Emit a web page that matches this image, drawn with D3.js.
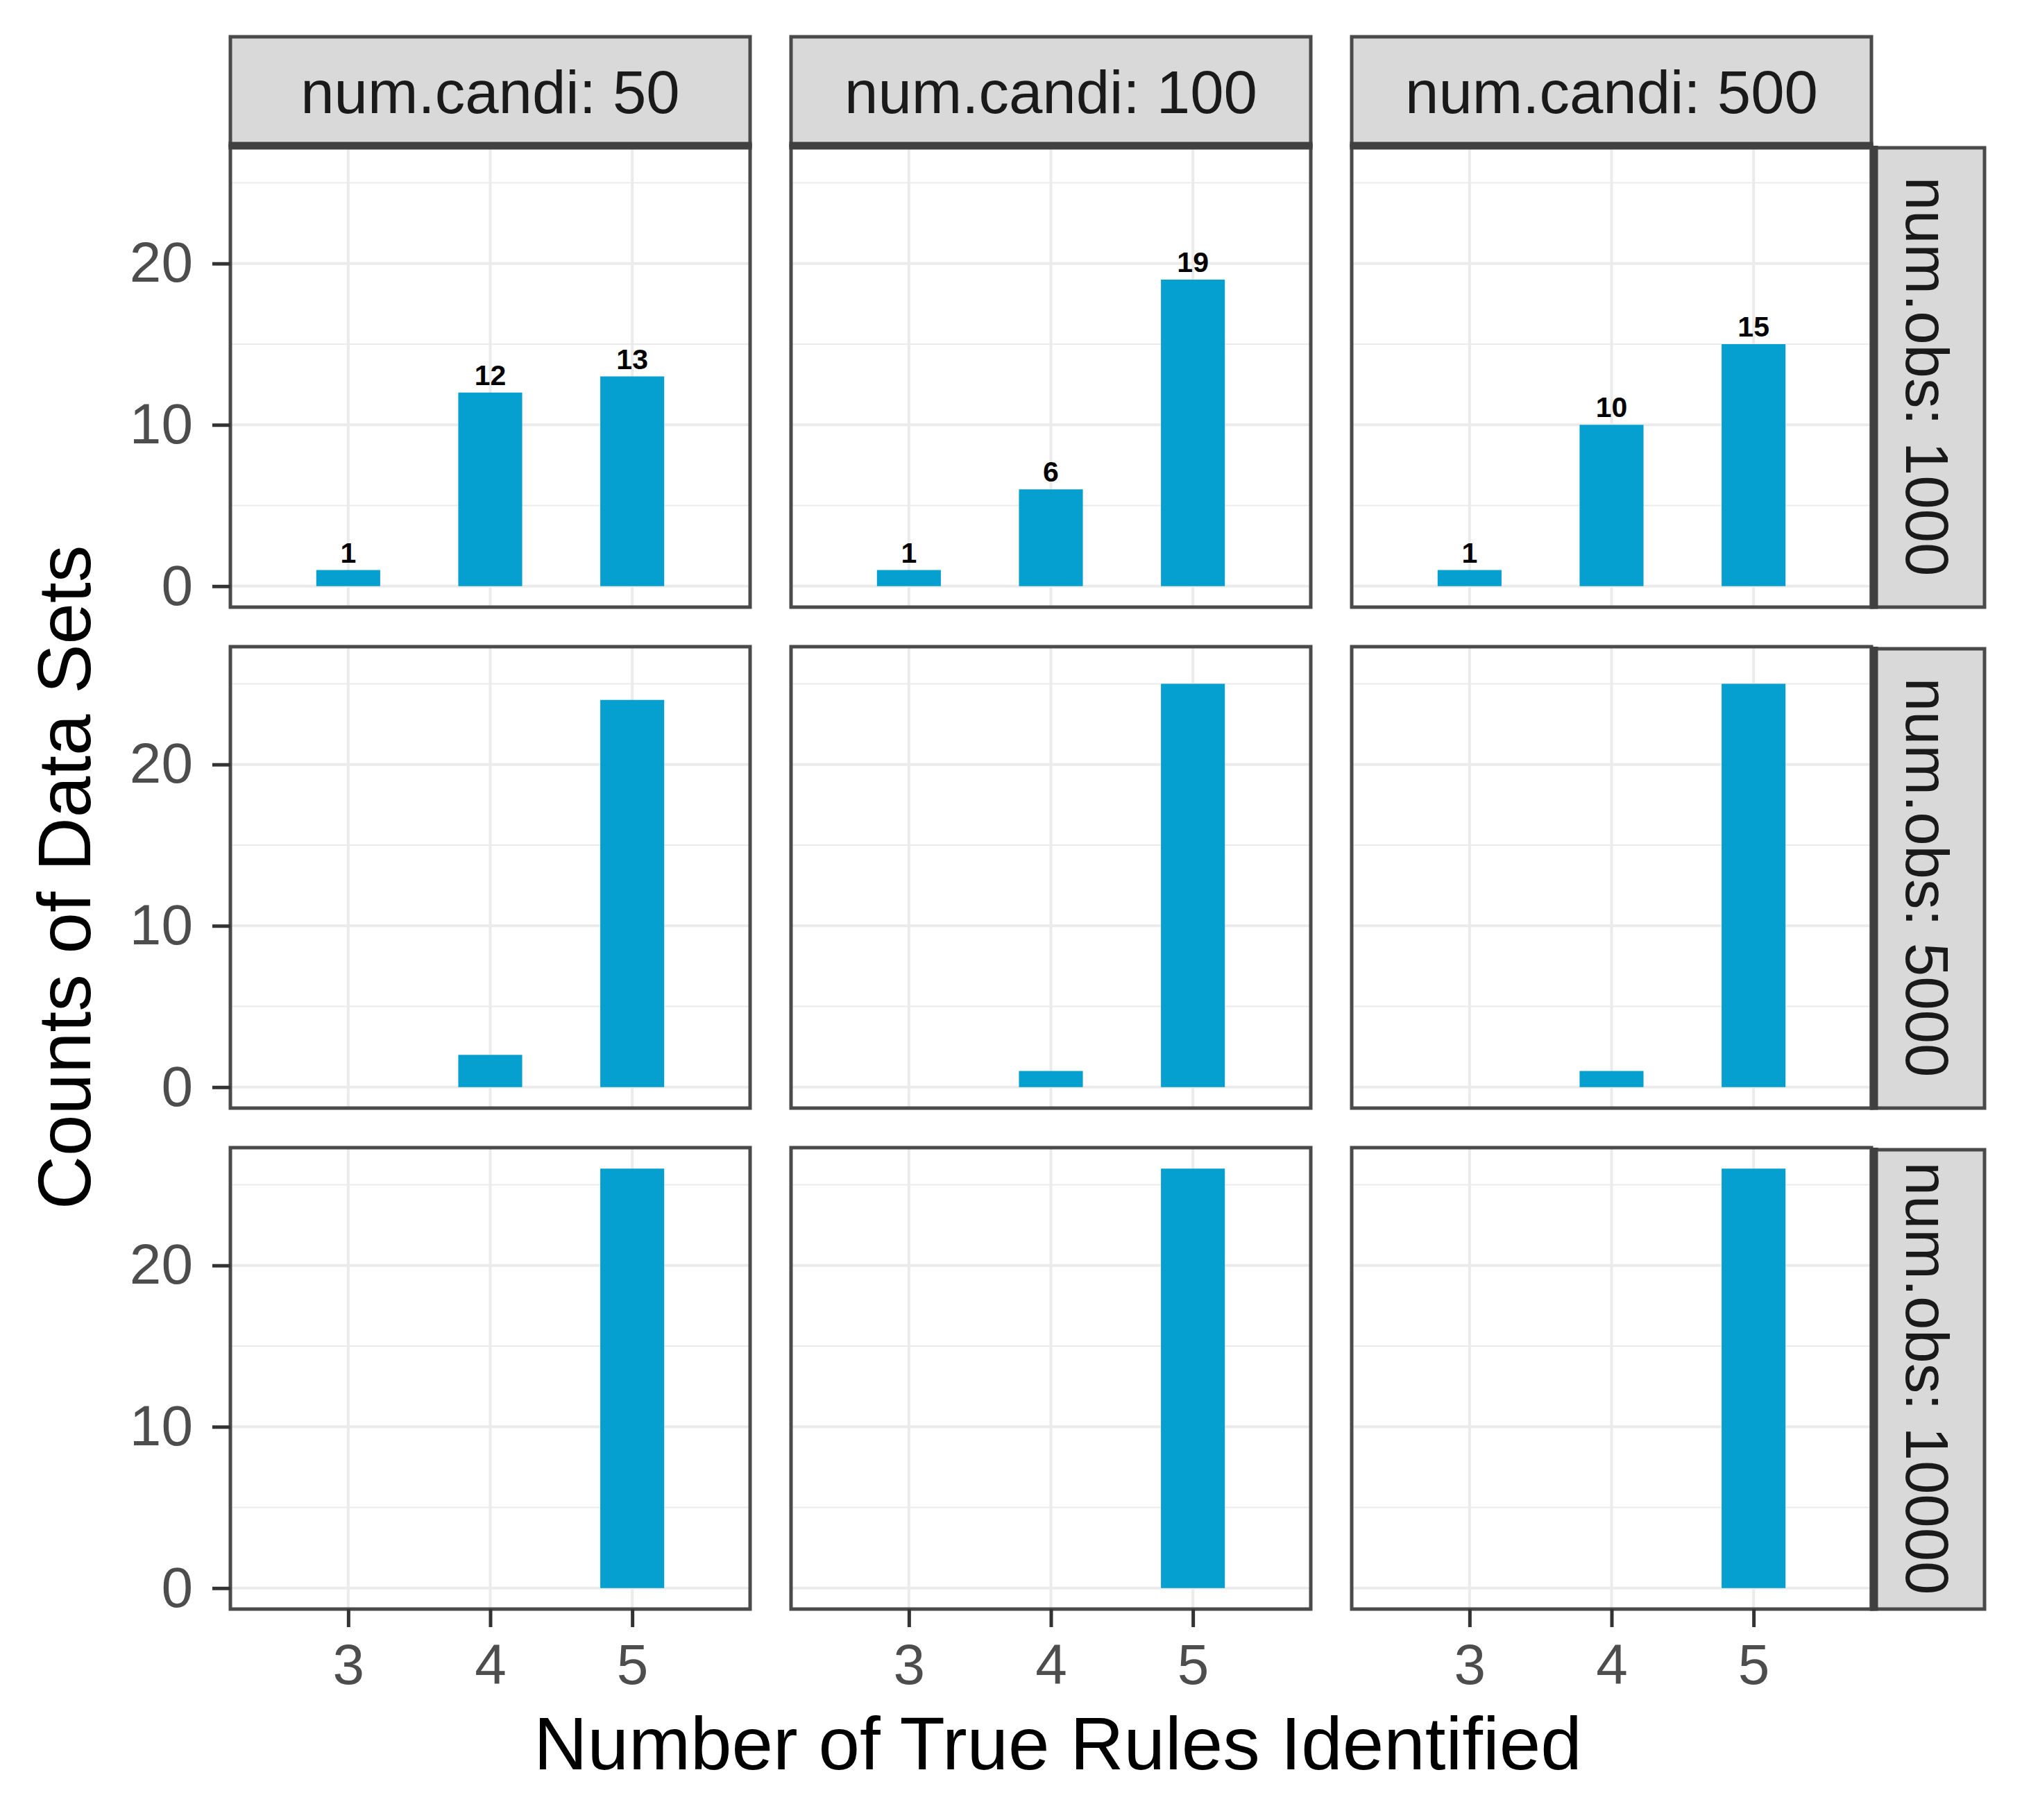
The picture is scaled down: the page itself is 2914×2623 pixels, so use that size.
<!DOCTYPE html>
<html>
<head>
<meta charset="utf-8">
<script src="https://cdn.jsdelivr.net/npm/d3@7"></script>
<style>
  body { margin: 0; background: #fff; }
  svg { display: block; font-family: "Liberation Sans", Arial, Helvetica, sans-serif; }
</style>
</head>
<body>
<div id="chart"></div>
<script>
// facet levels
const candidateCounts = [50, 100, 500];
const obsCounts = [1000, 5000, 10000];
const rulesFound = [3, 4, 5];

// counts of data sets, one array per num.obs row, one inner array per num.candi column
const counts1000 = [[1, 12, 13], [1, 6, 19], [1, 10, 15]];
const counts5000 = [[0, 2, 24], [0, 1, 25], [0, 1, 25]];
const counts10000 = [[0, 0, 26], [0, 0, 26], [0, 0, 26]];
const countsByObs = [counts1000, counts5000, counts10000];

// only these rows get value labels above bars
const labelledObs = [1000];

const yTicks = [0, 10, 20];
const yMinorTicks = [5, 15, 25];

const width = 2914;
const height = 2623;

const panel = { left: 332, top: 210, width: 749, height: 665, gapX: 59, gapY: 57 };
const stripTop = 53;
const stripRight = 2860;

const barColor = "#05A0D0";
const borderColor = "#4A4A4A";
const gridColor = "#EBEBEB";

const x = d3.scaleLinear().domain([2.17, 5.83]).range([0, panel.width]);
const y = d3.scaleLinear().domain([-1.3, 27.3]).range([panel.height, 0]);
const barWidth = x(3.45) - x(3);

const svg = d3.select("#chart")
  .append("svg")
  .attr("width", width)
  .attr("height", height)
  .attr("viewBox", `0 0 ${width} ${height}`);

svg.append("rect").attr("width", width).attr("height", height).attr("fill", "#fff");

const panelX = (col) => panel.left + col * (panel.width + panel.gapX);
const panelY = (row) => panel.top + row * (panel.height + panel.gapY);

obsCounts.forEach((obs, row) => {
  candidateCounts.forEach((candi, col) => {
    const g = svg.append("g")
      .attr("class", "panel")
      .attr("transform", `translate(${panelX(col)},${panelY(row)})`);

    // grid
    g.selectAll(".minor-y")
      .data(yMinorTicks)
      .join("line")
      .attr("x1", 0).attr("x2", panel.width)
      .attr("y1", (d) => y(d)).attr("y2", (d) => y(d))
      .attr("stroke", gridColor).attr("stroke-width", 2);

    g.selectAll(".major-y")
      .data(yTicks)
      .join("line")
      .attr("x1", 0).attr("x2", panel.width)
      .attr("y1", (d) => y(d)).attr("y2", (d) => y(d))
      .attr("stroke", gridColor).attr("stroke-width", 4);

    g.selectAll(".major-x")
      .data(rulesFound)
      .join("line")
      .attr("x1", (d) => x(d)).attr("x2", (d) => x(d))
      .attr("y1", 0).attr("y2", panel.height)
      .attr("stroke", gridColor).attr("stroke-width", 4);

    const values = countsByObs[row][col].map((count, i) => ({ rules: rulesFound[i], count }));

    g.selectAll("rect.bar")
      .data(values.filter((d) => d.count > 0))
      .join("rect")
      .attr("class", "bar")
      .attr("x", (d) => x(d.rules) - barWidth / 2)
      .attr("width", barWidth)
      .attr("y", (d) => y(d.count))
      .attr("height", (d) => y(0) - y(d.count))
      .attr("fill", barColor);

    if (labelledObs.includes(obs)) {
      g.selectAll("text.value")
        .data(values.filter((d) => d.count > 0))
        .join("text")
        .attr("class", "value")
        .attr("x", (d) => x(d.rules))
        .attr("y", (d) => y(d.count) - 11)
        .attr("text-anchor", "middle")
        .attr("font-size", 41)
        .attr("font-weight", "bold")
        .attr("fill", "#000")
        .text((d) => d.count);
    }

    g.append("rect")
      .attr("width", panel.width)
      .attr("height", panel.height)
      .attr("fill", "none")
      .attr("stroke", borderColor)
      .attr("stroke-width", 5);

    // axes on the outer panels only
    if (col === 0) {
      const yAxis = g.append("g")
        .call(d3.axisLeft(y).tickValues(yTicks).tickFormat(d3.format("d")).tickSize(26).tickPadding(28));
      yAxis.select(".domain").remove();
      yAxis.selectAll("line").attr("stroke", "#333").attr("stroke-width", 5);
      yAxis.selectAll("text")
        .attr("font-size", 82)
        .attr("font-family", "Liberation Sans, Arial, sans-serif")
        .attr("fill", "#4D4D4D");
    }
    if (row === obsCounts.length - 1) {
      const xAxis = g.append("g")
        .attr("transform", `translate(0,${panel.height})`)
        .call(d3.axisBottom(x).tickValues(rulesFound).tickFormat(d3.format("d")).tickSize(26).tickPadding(24));
      xAxis.select(".domain").remove();
      xAxis.selectAll("line").attr("stroke", "#333").attr("stroke-width", 5);
      xAxis.selectAll("text")
        .attr("font-size", 82)
        .attr("font-family", "Liberation Sans, Arial, sans-serif")
        .attr("fill", "#4D4D4D");
    }
  });
});

// column strips
candidateCounts.forEach((candi, col) => {
  const sx = panelX(col);
  svg.append("rect")
    .attr("x", sx).attr("y", stripTop)
    .attr("width", panel.width).attr("height", panel.top - stripTop)
    .attr("fill", "#D9D9D9")
    .attr("stroke", borderColor).attr("stroke-width", 5);
  svg.append("line")
    .attr("x1", sx - 2.5).attr("x2", sx + panel.width + 2.5)
    .attr("y1", panel.top).attr("y2", panel.top)
    .attr("stroke", "#404040").attr("stroke-width", 11);
  svg.append("text")
    .attr("x", sx + panel.width / 2)
    .attr("y", (stripTop + panel.top) / 2)
    .attr("dy", "0.36em")
    .attr("text-anchor", "middle")
    .attr("font-size", 87)
    .attr("fill", "#1A1A1A")
    .text(`num.candi: ${candi}`);
});

// row strips
const stripLeft = panelX(candidateCounts.length - 1) + panel.width;
obsCounts.forEach((obs, row) => {
  const sy = panelY(row);
  svg.append("rect")
    .attr("x", stripLeft).attr("y", sy + 3)
    .attr("width", stripRight - stripLeft).attr("height", panel.height - 3)
    .attr("fill", "#D9D9D9")
    .attr("stroke", borderColor).attr("stroke-width", 5);
  svg.append("line")
    .attr("x1", stripLeft + 4).attr("x2", stripLeft + 4)
    .attr("y1", sy).attr("y2", sy + panel.height + 2.5)
    .attr("stroke", "#404040").attr("stroke-width", 11);
  const cx = (stripLeft + stripRight) / 2;
  const cy = sy + panel.height / 2;
  svg.append("text")
    .attr("transform", `translate(${cx},${cy}) rotate(90)`)
    .attr("dy", "0.36em")
    .attr("text-anchor", "middle")
    .attr("font-size", 87)
    .attr("fill", "#1A1A1A")
    .text(`num.obs: ${obs}`);
});

// axis titles
const plotCenterX = (panel.left + stripLeft) / 2 + 10;
const plotCenterY = (panel.top + panelY(obsCounts.length - 1) + panel.height) / 2;

svg.append("text")
  .attr("x", plotCenterX)
  .attr("y", 2550)
  .attr("text-anchor", "middle")
  .attr("font-size", 107)
  .attr("fill", "#000")
  .text("Number of True Rules Identified");

svg.append("text")
  .attr("transform", `translate(130,${plotCenterY}) rotate(-90)`)
  .attr("text-anchor", "middle")
  .attr("font-size", 107)
  .attr("fill", "#000")
  .text("Counts of Data Sets");
</script>
</body>
</html>
